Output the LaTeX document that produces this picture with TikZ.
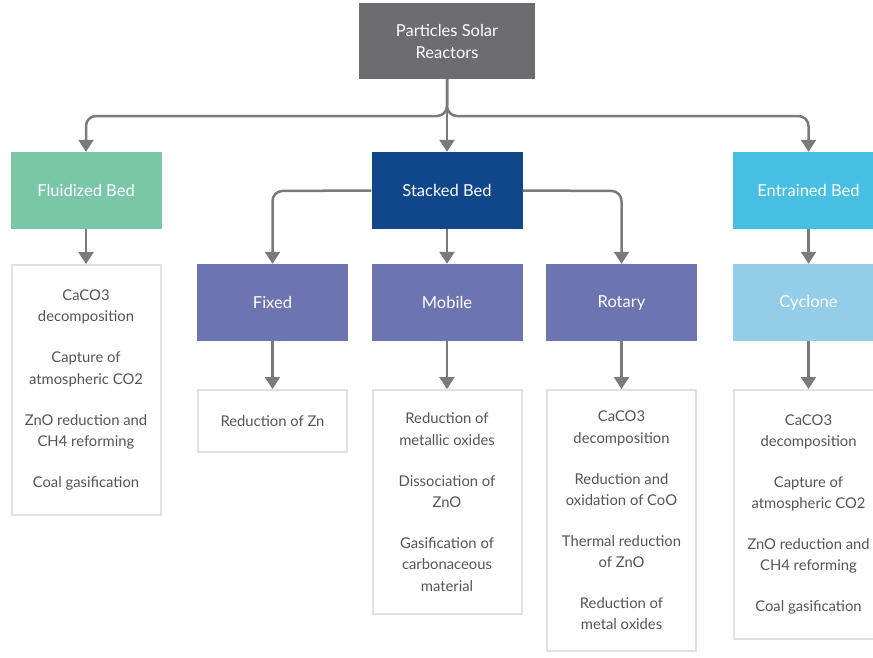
\documentclass[tikz,border=0pt]{standalone}
\usepackage{fontspec}
\setmainfont{Lato}
\usetikzlibrary{arrows.meta}
\definecolor{cTop}{HTML}{6D6D6F}
\definecolor{cFluid}{HTML}{79C7A6}
\definecolor{cStack}{HTML}{10468A}
\definecolor{cEntr}{HTML}{47BFE2}
\definecolor{cPurp}{HTML}{6D75B0}
\definecolor{cCycl}{HTML}{94CDE8}
\definecolor{cLine}{HTML}{7A7A7A}
\definecolor{cBorder}{HTML}{E3E0E3}
\definecolor{cText}{HTML}{555555}
\begin{document}
\begin{tikzpicture}[x=1pt,y=-1pt,
  box/.style={draw=none, inner sep=0pt, minimum width=151pt, minimum height=77pt,
    text=white, font=\fontsize{16.5}{22}\selectfont, align=center},
  listbox/.style={draw=cBorder, line width=2pt, fill=white, inner sep=0pt,
    minimum width=149pt, text=cText, align=center, font=\fontsize{14.8}{21.3}\selectfont},
  conn/.style={draw=cLine, line width=2.5pt, rounded corners=10pt,
    -{Triangle[width=15pt,length=12pt]}}]
\useasboundingbox (0,0) rectangle (873,657);
\clip (0,0) rectangle (873,657);
\fill[white] (0,0) rectangle (873,657);

\node[box, fill=cTop, minimum width=176pt, minimum height=76pt] (top) at (447,41) {Particles Solar\\Reactors};

\node[box, fill=cFluid] (fluid) at (86,190.5) {Fluidized Bed};
\node[box, fill=cStack] (stack) at (447,190.5) {Stacked Bed};
\node[box, fill=cEntr] (entr) at (808.5,190.5) {Entrained Bed};

\node[box, fill=cPurp] (fixed) at (272.5,302.5) {Fixed};
\node[box, fill=cPurp] (mobile) at (447,302.5) {Mobile};
\node[box, fill=cPurp] (rotary) at (621.5,302.5) {Rotary};
\node[box, fill=cCycl] (cycl) at (808.5,302.5) {Cyclone};

\node[listbox, minimum height=250pt] (lfluid) at (86,390) {CaCO3\\decomposition\\[19.7pt]Capture of\\atmospheric CO2\\[19.7pt]ZnO reduction and\\CH4 reforming\\[19.7pt]Coal gasification};
\node[listbox, minimum height=62pt] (lfixed) at (272.5,421) {Reduction of Zn};
\node[listbox, minimum height=224pt] (lmobile) at (447,502) {Reduction of\\metallic oxides\\[19.7pt]Dissociation of\\ZnO\\[19.7pt]Gasification of\\carbonaceous\\material};
\node[listbox, minimum height=261pt] (lrotary) at (621.5,520.5) {CaCO3\\decomposition\\[19.7pt]Reduction and\\oxidation of CoO\\[19.7pt]Thermal reduction\\of ZnO\\[19.7pt]Reduction of\\metal oxides};
\node[listbox, minimum height=249pt] (lcycl) at (808.5,514.5) {CaCO3\\decomposition\\[19.7pt]Capture of\\atmospheric CO2\\[19.7pt]ZnO reduction and\\CH4 reforming\\[19.7pt]Coal gasification};

\draw[conn] (top.south) -- (stack.north);
\draw[conn] (top.south) -- (447,116) -- (86,116) -- (fluid.north);
\draw[conn] (top.south) -- (447,116) -- (808.5,116) -- (entr.north);

\draw[conn] (stack.west) -- (272.5,191) -- (fixed.north);
\draw[conn] (stack.south) -- (mobile.north);
\draw[conn] (stack.east) -- (621.5,191) -- (rotary.north);

\draw[conn] (fluid.south) -- (lfluid.north);
\draw[conn] (fixed.south) -- (lfixed.north);
\draw[conn] (mobile.south) -- (lmobile.north);
\draw[conn] (rotary.south) -- (lrotary.north);
\draw[conn] (entr.south) -- (cycl.north);
\draw[conn] (cycl.south) -- (lcycl.north);
\end{tikzpicture}
\end{document}
